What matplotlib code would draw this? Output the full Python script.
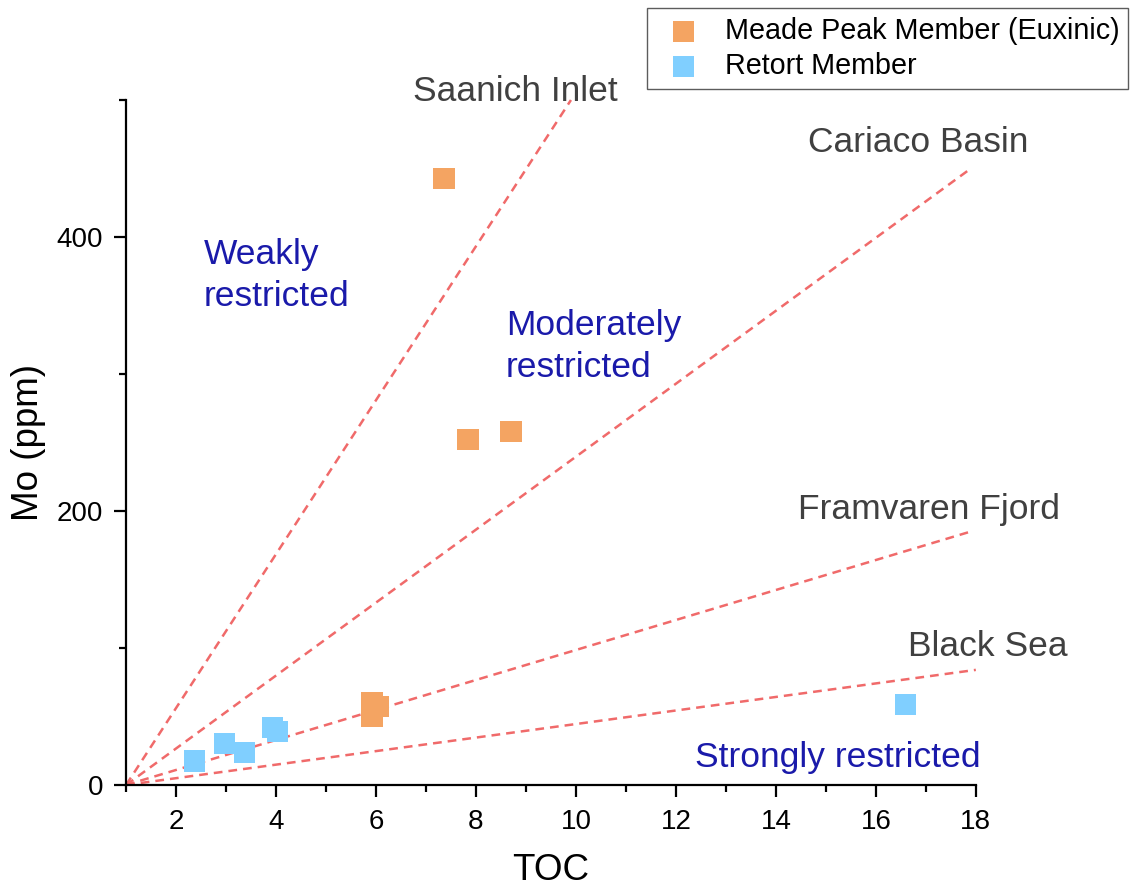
import numpy as np
import matplotlib.pyplot as plt
from matplotlib.ticker import MultipleLocator

plt.rcParams['font.family'] = ['Liberation Sans', 'DejaVu Sans']

# sample data (TOC wt%, Mo ppm)
meade_toc = [7.36, 7.84, 8.7, 5.92, 6.05, 5.92]
meade_mo = [443, 252, 258, 60, 57, 50]
retort_toc = [2.36, 2.97, 3.36, 3.93, 4.02, 16.6]
retort_mo = [17.5, 30, 24, 42, 39, 59]

# reference basin trend lines, start and end points
basin_names = ['Saanich Inlet', 'Cariaco Basin', 'Framvaren Fjord', 'Black Sea']
basin_x0 = [1, 1, 1, 1]
basin_y0 = [0, 0, 0, 0]
basin_x1 = [9.9, 17.9, 17.9, 18.0]
basin_y1 = [500, 450, 185, 84]
basin_label_x = [8.78, 16.84, 17.06, 18.24]
basin_label_y = [506, 469, 201, 101]

region_names = ['Weakly\nrestricted', 'Moderately\nrestricted', 'Strongly restricted']
region_x = [2.56, 8.6, 12.38]
region_y = [372, 320, 20]

fig = plt.figure(figsize=(11.36, 8.93), dpi=100)
ax = fig.add_axes([0.111, 0.121, 0.748, 0.767])

for i in range(len(basin_names)):
    ax.plot([basin_x0[i], basin_x1[i]], [basin_y0[i], basin_y1[i]],
            color='#F06A6A', ls=(0, (3.5, 2.4)), lw=1.8, zorder=1, clip_on=False)
    ax.text(basin_label_x[i], basin_label_y[i], basin_names[i], fontsize=25.5,
            color='#404040', ha='center', va='center', clip_on=False)

ax.scatter(meade_toc, meade_mo, marker='s', s=230, color='#F4A462',
           edgecolors='none', zorder=3, label='Meade Peak Member (Euxinic)', clip_on=False)
ax.scatter(retort_toc, retort_mo, marker='s', s=230, color='#80CFFF',
           edgecolors='none', zorder=3, label='Retort Member', clip_on=False)

for i in range(len(region_names)):
    ax.text(region_x[i], region_y[i], region_names[i], fontsize=25.5,
            color='#1A1AAA', ha='left', va='center', linespacing=1.35)

ax.set_xlim(1, 18)
ax.set_ylim(0, 500)
ax.xaxis.set_major_locator(MultipleLocator(2))
ax.xaxis.set_minor_locator(MultipleLocator(1))
ax.yaxis.set_major_locator(MultipleLocator(200))
ax.yaxis.set_minor_locator(MultipleLocator(100))
ax.set_xticks(range(2, 19, 2))

for s in ['top', 'right']:
    ax.spines[s].set_visible(False)
for s in ['left', 'bottom']:
    ax.spines[s].set_linewidth(1.6)

ax.tick_params(which='major', length=8.5, width=1.6, labelsize=20)
ax.tick_params(which='minor', length=5, width=1.6)
ax.tick_params(axis='x', which='major', pad=9)
ax.tick_params(axis='y', which='major', pad=8)

ax.set_xlabel('TOC', fontsize=26.5, labelpad=13)
ax.set_ylabel('Mo (ppm)', fontsize=26.5, labelpad=8)

leg = fig.legend(loc='upper right', bbox_to_anchor=(0.993, 0.991), fontsize=20.7,
                 frameon=True, fancybox=False, edgecolor='#333333',
                 handletextpad=0.5, borderpad=0.3, labelspacing=0.27,
                 handlelength=1.9, markerscale=1.0, borderaxespad=0)
leg.get_frame().set_linewidth(1.0)

fig.savefig('out.png', dpi=100)
